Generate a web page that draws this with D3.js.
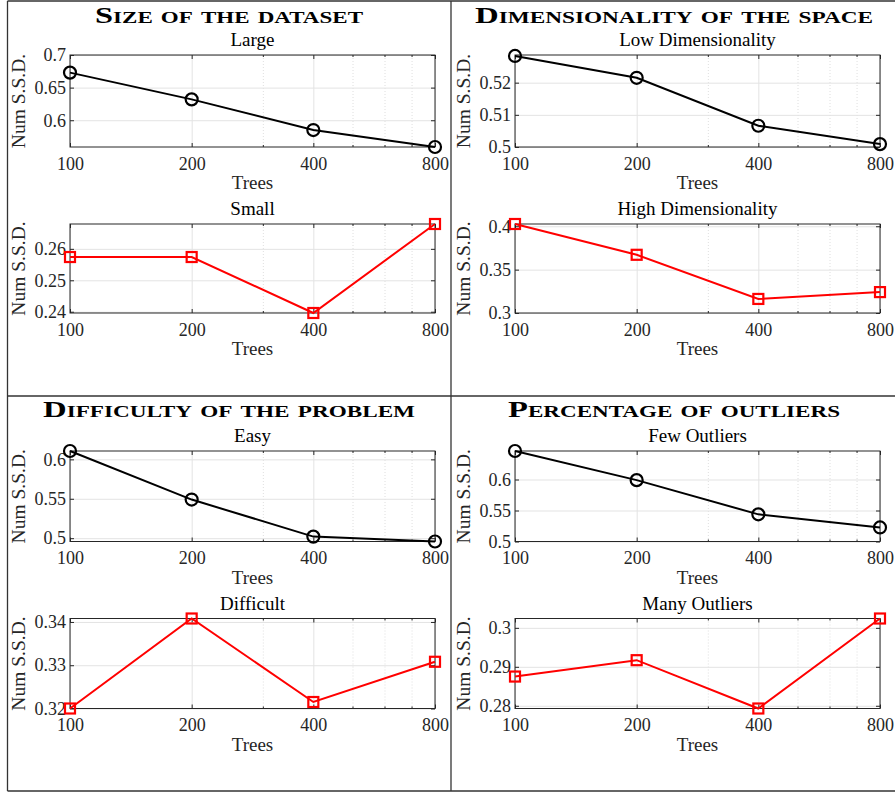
<!DOCTYPE html>
<html>
<head>
<meta charset="utf-8">
<script src="https://cdn.jsdelivr.net/npm/d3@7"></script>
<style>
  body { margin: 0; background: #fff; }
  svg { display: block; font-family: "Liberation Serif", "Times New Roman", serif; }
  .grid line { stroke: #e3e3e3; stroke-width: 1; }
  .grid path { display: none; }
  .minor line { stroke: #d6d6d6; stroke-width: 0.8; stroke-dasharray: 1 2; }
  .minor path { display: none; }
  .axis path { display: none; }
  .axis line { stroke: #262626; }
  .axis text { fill: #262626; font-size: 18px; font-family: "Liberation Serif", serif; }
</style>
</head>
<body>
<div id="chart"></div>
<script>
const trees = [100, 200, 400, 800];
const minorTrees = [300, 500, 600, 700];

const panelTitles = ["Size of the dataset", "Dimensionality of the space",
                     "Difficulty of the problem", "Percentage of outliers"];

const largeVals = [0.673, 0.632, 0.585, 0.559];
const smallVals = [0.2574, 0.2574, 0.2396, 0.2679];
const lowDimVals = [0.5283, 0.5215, 0.5066, 0.5009];
const highDimVals = [0.4026, 0.3671, 0.3162, 0.3241];
const easyVals = [0.6106, 0.549, 0.502, 0.4958];
const difficultVals = [0.3200, 0.3408, 0.3215, 0.3308];
const fewOutVals = [0.646, 0.599, 0.5438, 0.5227];
const manyOutVals = [0.2875, 0.2917, 0.2793, 0.3024];

const largeTicks = [0.6, 0.65, 0.7];
const smallTicks = [0.24, 0.25, 0.26];
const lowDimTicks = [0.5, 0.51, 0.52];
const highDimTicks = [0.3, 0.35, 0.4];
const easyTicks = [0.5, 0.55, 0.6];
const difficultTicks = [0.32, 0.33, 0.34];
const fewOutTicks = [0.5, 0.55, 0.6];
const manyOutTicks = [0.28, 0.29, 0.3];

// subplot list: column, row, title, values, y-limits, ticks, style
const subplots = [
  { col: 0, row: 0, title: "Large", vals: largeVals, ylim: [0.559, 0.7], ticks: largeTicks, kind: "circle" },
  { col: 0, row: 1, title: "Small", vals: smallVals, ylim: [0.2396, 0.2679], ticks: smallTicks, kind: "square" },
  { col: 1, row: 0, title: "Low Dimensionality", vals: lowDimVals, ylim: [0.5, 0.5286], ticks: lowDimTicks, kind: "circle" },
  { col: 1, row: 1, title: "High Dimensionality", vals: highDimVals, ylim: [0.3, 0.4026], ticks: highDimTicks, kind: "square" },
  { col: 0, row: 2, title: "Easy", vals: easyVals, ylim: [0.4958, 0.6106], ticks: easyTicks, kind: "circle" },
  { col: 0, row: 3, title: "Difficult", vals: difficultVals, ylim: [0.32, 0.3408], ticks: difficultTicks, kind: "square" },
  { col: 1, row: 2, title: "Few Outliers", vals: fewOutVals, ylim: [0.5, 0.646], ticks: fewOutTicks, kind: "circle" },
  { col: 1, row: 3, title: "Many Outliers", vals: manyOutVals, ylim: [0.2793, 0.3024], ticks: manyOutTicks, kind: "square" }
];

const W = 895, H = 792;
const colX = [[70, 435], [515, 880]];
const rowY = [[55, 147], [224, 313], [451, 541.5], [618.5, 708.5]];
const titleSpec = [
  { x: 229, y: 23, w: 268 }, { x: 674, y: 23, w: 398 },
  { x: 229, y: 417, w: 372 }, { x: 674, y: 417, w: 332 }
];

const svg = d3.select("#chart").append("svg").attr("width", W).attr("height", H);

// frame lines
const frame = svg.append("g").attr("stroke", "#333").attr("stroke-width", 1.3);
frame.append("line").attr("x1", 7.5).attr("x2", 895).attr("y1", 1).attr("y2", 1);
frame.append("line").attr("x1", 7.5).attr("x2", 7.5).attr("y1", 1).attr("y2", 791);
frame.append("line").attr("x1", 7.5).attr("x2", 895).attr("y1", 791).attr("y2", 791);
frame.append("line").attr("x1", 451).attr("x2", 451).attr("y1", 1).attr("y2", 791);
frame.append("line").attr("x1", 7.5).attr("x2", 895).attr("y1", 396).attr("y2", 396);

// panel titles
panelTitles.forEach((t, i) => {
  svg.append("text")
    .attr("x", titleSpec[i].x).attr("y", titleSpec[i].y)
    .attr("text-anchor", "middle")
    .attr("font-size", 24).attr("font-weight", "bold")
    .style("font-variant", "small-caps")
    .attr("textLength", titleSpec[i].w).attr("lengthAdjust", "spacingAndGlyphs")
    .attr("fill", "#000")
    .text(t);
});

subplots.forEach(sp => {
  const [x0, x1] = colX[sp.col];
  const [y0, y1] = rowY[sp.row];
  const w = x1 - x0, h = y1 - y0;
  const color = sp.kind === "circle" ? "#000" : "#ff0000";

  const x = d3.scaleLog().domain([100, 800]).range([0, w]);
  const y = d3.scaleLinear().domain(sp.ylim).range([h, 0]);

  const g = svg.append("g").attr("transform", "translate(" + x0 + "," + y0 + ")");

  // grids
  g.append("g").attr("class", "minor")
    .call(d3.axisBottom(x).tickValues(minorTrees).tickSize(h).tickFormat(""));
  g.append("g").attr("class", "grid")
    .call(d3.axisBottom(x).tickValues(trees).tickSize(h).tickFormat(""));
  g.append("g").attr("class", "grid")
    .call(d3.axisLeft(y).tickValues(sp.ticks).tickSize(-w).tickFormat(""));

  // axes with inward ticks
  g.append("g").attr("class", "axis")
    .attr("transform", "translate(0," + h + ")")
    .call(d3.axisBottom(x).tickValues(trees).tickFormat(d3.format("d"))
      .tickSizeInner(-4).tickSizeOuter(0).tickPadding(10));
  g.append("g").attr("class", "axis")
    .attr("transform", "translate(0," + h + ")")
    .call(d3.axisBottom(x).tickValues(minorTrees).tickFormat("").tickSizeInner(-2).tickSizeOuter(0));
  g.append("g").attr("class", "axis")
    .call(d3.axisTop(x).tickValues(trees).tickFormat("").tickSizeInner(-4).tickSizeOuter(0));
  g.append("g").attr("class", "axis")
    .call(d3.axisTop(x).tickValues(minorTrees).tickFormat("").tickSizeInner(-2).tickSizeOuter(0));
  g.append("g").attr("class", "axis")
    .call(d3.axisLeft(y).tickValues(sp.ticks).tickFormat(d => String(d))
      .tickSizeInner(-4).tickSizeOuter(0).tickPadding(4));
  g.append("g").attr("class", "axis")
    .attr("transform", "translate(" + w + ",0)")
    .call(d3.axisRight(y).tickValues(sp.ticks).tickFormat("").tickSizeInner(-4).tickSizeOuter(0));

  g.append("rect").attr("width", w).attr("height", h)
    .attr("fill", "none").attr("stroke", "#262626").attr("stroke-width", 1);

  // subplot title and labels
  g.append("text").attr("x", w / 2).attr("y", -9)
    .attr("text-anchor", "middle").attr("font-size", 19).attr("fill", "#000")
    .text(sp.title);
  g.append("text").attr("x", w / 2).attr("y", h + 42)
    .attr("text-anchor", "middle").attr("font-size", 19).attr("fill", "#262626")
    .text("Trees");
  g.append("text")
    .attr("transform", "translate(" + (-45) + "," + (h / 2) + ") rotate(-90)")
    .attr("text-anchor", "middle").attr("font-size", 19.5).attr("fill", "#262626")
    .text("Num S.S.D.");

  // data line and markers
  const pts = trees.map((t, i) => [x(t), y(sp.vals[i])]);
  g.append("path").datum(pts)
    .attr("d", d3.line())
    .attr("fill", "none").attr("stroke", color).attr("stroke-width", 2);

  if (sp.kind === "circle") {
    g.selectAll(".mk").data(pts).enter().append("circle")
      .attr("cx", d => d[0]).attr("cy", d => d[1]).attr("r", 6)
      .attr("fill", "none").attr("stroke", color).attr("stroke-width", 2.2);
  } else {
    g.selectAll(".mk").data(pts).enter().append("rect")
      .attr("x", d => d[0] - 5).attr("y", d => d[1] - 5)
      .attr("width", 10).attr("height", 10)
      .attr("fill", "none").attr("stroke", color).attr("stroke-width", 2.2);
  }
});
</script>
</body>
</html>
